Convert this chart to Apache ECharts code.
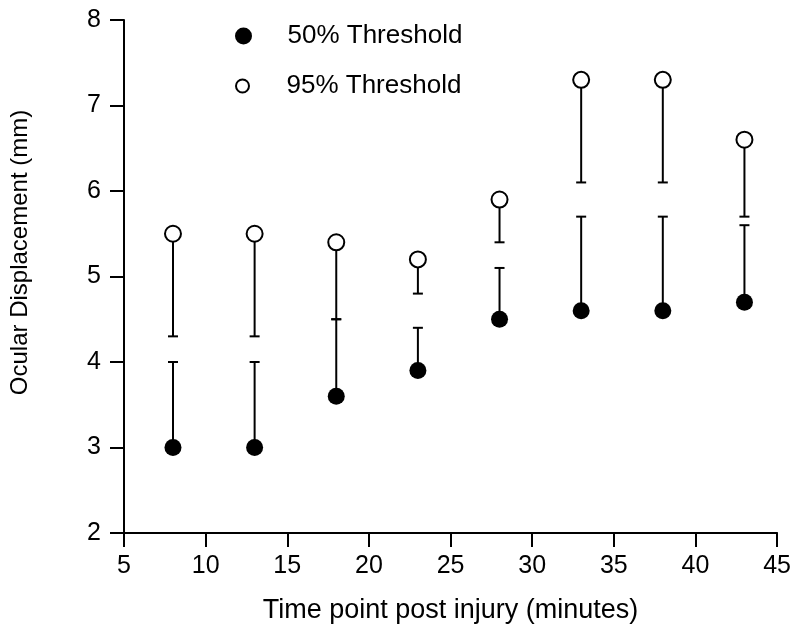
<!DOCTYPE html>
<html>
<head>
<meta charset="utf-8">
<script src="https://cdn.jsdelivr.net/npm/echarts@6/dist/echarts.min.js"></script>
<style>html,body{margin:0;padding:0;background:#fff;}#c{width:794px;height:636px;}</style>
</head>
<body>
<div id="c"></div>
<script>
var timePoints = [8, 13, 18, 23, 28, 33, 38, 43];
var threshold50 = [3.0, 3.0, 3.6, 3.9, 4.5, 4.6, 4.6, 4.7];
var threshold95 = [5.5, 5.5, 5.4, 5.2, 5.9, 7.3, 7.3, 6.6];
var threshold50Upper = [4.0, 4.0, 4.5, 4.4, 5.1, 5.7, 5.7, 5.6];
var threshold95Lower = [4.3, 4.3, 4.5, 4.8, 5.4, 6.1, 6.1, 5.7];
var xTicks = [5, 10, 15, 20, 25, 30, 35, 40, 45];
var yTicks = [2, 3, 4, 5, 6, 7, 8];

var FONT = "'Liberation Sans', Arial, Helvetica, sans-serif";

function zip(a, b) { return a.map(function (v, i) { return [v, b[i]]; }); }

var err50 = timePoints.map(function (t, i) { return [t, threshold50[i], threshold50Upper[i]]; });
var err95 = timePoints.map(function (t, i) { return [t, threshold95[i], threshold95Lower[i]]; });

function renderErr(params, api) {
  var x = api.value(0);
  var p0 = api.coord([x, api.value(1)]);
  var p1 = api.coord([x, api.value(2)]);
  var hw = 5;
  var st = { stroke: '#000', lineWidth: 2 };
  return {
    type: 'group',
    children: [
      { type: 'line', shape: { x1: p0[0], y1: p0[1], x2: p1[0], y2: p1[1] }, style: st },
      { type: 'line', shape: { x1: p1[0] - hw, y1: p1[1], x2: p1[0] + hw, y2: p1[1] }, style: st }
    ]
  };
}

var chart = echarts.init(document.getElementById('c'), null, { renderer: 'canvas' });
chart.setOption({
  animation: false,
  backgroundColor: '#fff',
  textStyle: { fontFamily: FONT },
  grid: { left: 121, right: 11, top: 20, bottom: 103, containLabel: false },
  legend: [
    {
      data: ['50% Threshold'], orient: 'vertical', left: 235, top: 23, padding: 0,
      itemWidth: 78, itemHeight: 17, selectedMode: false,
      textStyle: { fontSize: 26, color: '#000', fontFamily: FONT }
    },
    {
      data: ['95% Threshold'], orient: 'vertical', left: 235, top: 73, padding: 0,
      itemWidth: 78, itemHeight: 13, selectedMode: false,
      textStyle: { fontSize: 26, color: '#000', fontFamily: FONT }
    }
  ],
  xAxis: {
    type: 'value', min: xTicks[0], max: xTicks[xTicks.length - 1], interval: 5,
    name: 'Time point post injury (minutes)', nameLocation: 'middle', nameGap: 64,
    nameTextStyle: { fontSize: 27, color: '#000', fontFamily: FONT },
    axisLine: { show: true, onZero: false, lineStyle: { color: '#000', width: 2 } },
    axisTick: { show: true, length: 14, lineStyle: { color: '#000', width: 2 } },
    axisLabel: { fontSize: 25, color: '#000', margin: 21, fontFamily: FONT },
    splitLine: { show: false }
  },
  yAxis: {
    type: 'value', min: yTicks[0], max: yTicks[yTicks.length - 1], interval: 1,
    name: 'Ocular Displacement (mm)', nameLocation: 'middle', nameGap: 92,
    nameTextStyle: { fontSize: 24, color: '#000', fontFamily: FONT, padding: [0, 0, 0, 48] },
    axisLine: { show: true, onZero: false, lineStyle: { color: '#000', width: 2 } },
    axisTick: { show: true, length: 14, lineStyle: { color: '#000', width: 2 } },
    axisLabel: { fontSize: 25, color: '#000', margin: 23, fontFamily: FONT },
    splitLine: { show: false }
  },
  series: [
    { type: 'custom', name: 'err50', renderItem: renderErr, data: err50, z: 1, silent: true },
    { type: 'custom', name: 'err95', renderItem: renderErr, data: err95, z: 1, silent: true },
    {
      type: 'scatter', name: '50% Threshold', data: zip(timePoints, threshold50),
      symbol: 'circle', symbolSize: 17, z: 3,
      itemStyle: { color: '#000', borderColor: '#000', borderWidth: 0, opacity: 1 }
    },
    {
      type: 'scatter', name: '95% Threshold', data: zip(timePoints, threshold95),
      symbol: 'circle', symbolSize: 16, z: 3,
      itemStyle: { color: '#fff', borderColor: '#000', borderWidth: 2, opacity: 1 }
    }
  ]
});
</script>
</body>
</html>
